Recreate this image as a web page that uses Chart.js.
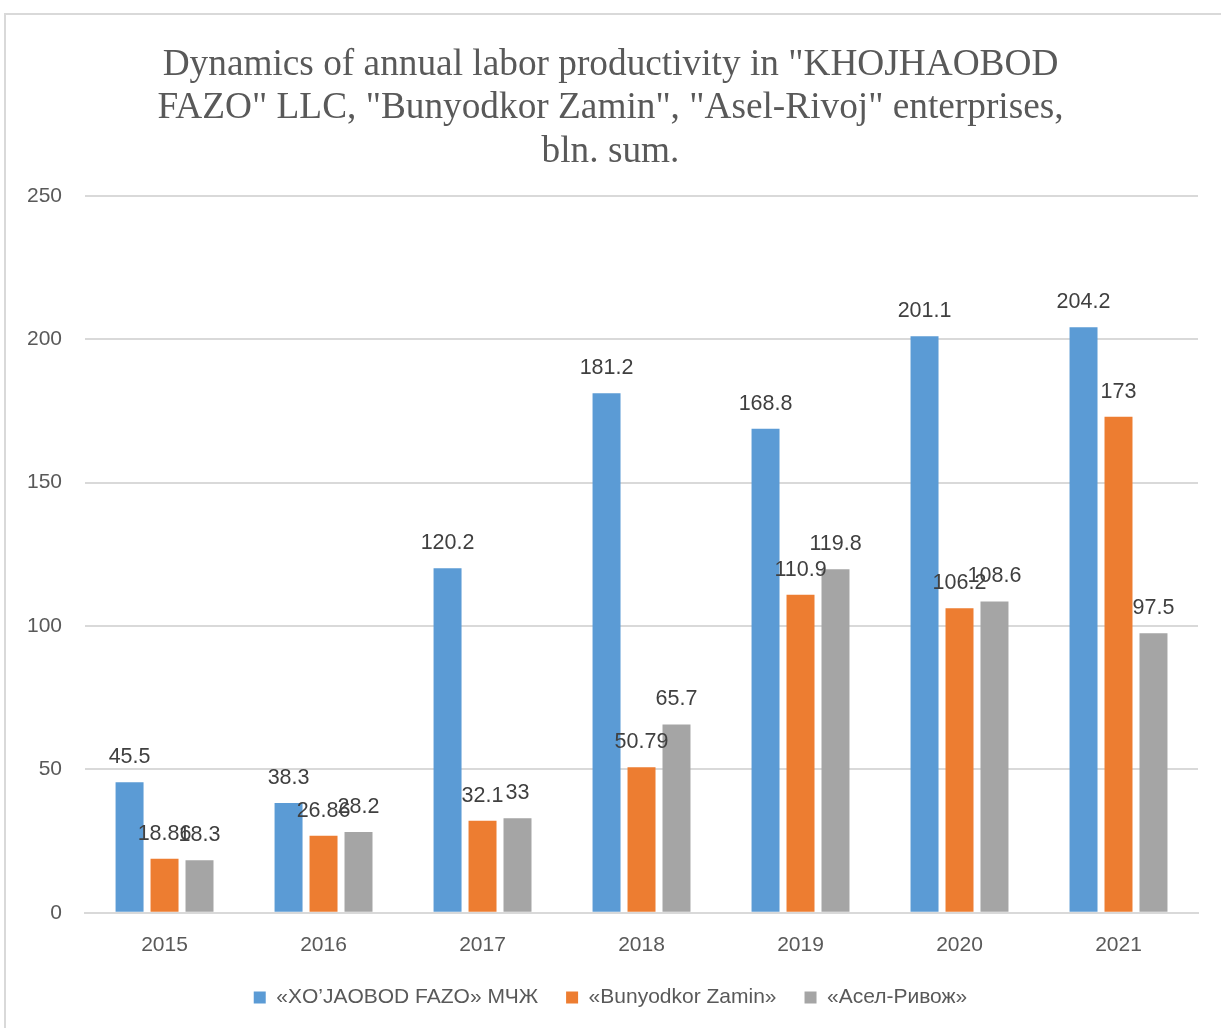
<!DOCTYPE html>
<html>
<head>
<meta charset="utf-8">
<script src="https://cdn.jsdelivr.net/npm/chart.js@4"></script>
<style>
    body { margin: 0; background: #fff; overflow: hidden; }
    .frame {
        position: absolute; left: 4px; top: 13px;
        width: 1300px; height: 1100px;
        border: 2px solid #d9d9d9;
    }
    .wrap { position: absolute; left: 0; top: 0; width: 1221px; height: 1028px; }
</style>
</head>
<body>
<div class="frame"></div>
<div class="wrap"><canvas id="prodChart"></canvas></div>
<script>
// Chart data
const years = ['2015', '2016', '2017', '2018', '2019', '2020', '2021'];
const khojhaobod = [45.5, 38.3, 120.2, 181.2, 168.8, 201.1, 204.2];
const bunyodkor = [18.86, 26.86, 32.1, 50.79, 110.9, 106.2, 173];
const aselRivoj = [18.3, 28.2, 33, 65.7, 119.8, 108.6, 97.5];
const seriesNames = ['«XO\u2019JAOBOD FAZO» МЧЖ', '«Bunyodkor Zamin»', '«Асел-Ривож»'];
const titleLines = [
    'Dynamics of annual labor productivity in "KHOJHAOBOD',
    'FAZO" LLC, "Bunyodkor Zamin", "Asel-Rivoj" enterprises,',
    'bln. sum.'
];

const sansFont = "'Liberation Sans', sans-serif";
const textColor = '#595959';

// Draws the value above each bar, Excel style
const valueLabels = {
    id: 'valueLabels',
    afterDatasetsDraw(chart) {
        const ctx = chart.ctx;
        ctx.save();
        ctx.font = '21.5px ' + sansFont;
        ctx.fillStyle = '#404040';
        ctx.textAlign = 'center';
        ctx.textBaseline = 'alphabetic';
        chart.data.datasets.forEach((ds, i) => {
            const meta = chart.getDatasetMeta(i);
            meta.data.forEach((bar, j) => {
                ctx.fillText(String(ds.data[j]), bar.x, bar.y - 19);
            });
        });
        ctx.restore();
    }
};

const ctx = document.getElementById('prodChart').getContext('2d');
new Chart(ctx, {
    type: 'bar',
    data: {
        labels: years,
        datasets: [
            { label: seriesNames[0], data: khojhaobod, backgroundColor: '#5B9BD5' },
            { label: seriesNames[1], data: bunyodkor, backgroundColor: '#ED7D31' },
            { label: seriesNames[2], data: aselRivoj, backgroundColor: '#A5A5A5' }
        ]
    },
    options: {
        responsive: true,
        maintainAspectRatio: false,
        animation: false,
        categoryPercentage: 0.66,
        barPercentage: 0.8,
        layout: {
            padding: { top: 22, left: 23, right: 23, bottom: 10 }
        },
        scales: {
            x: {
                grid: { display: false, drawTicks: false },
                border: { color: '#d9d9d9', width: 2 },
                ticks: {
                    color: textColor,
                    font: { family: sansFont, size: 21 },
                    padding: 20
                },
                // keep the legend close to the year labels
                afterFit(scale) {
                    scale.height -= 19;
                }
            },
            y: {
                min: 0,
                max: 250,
                grid: { color: '#d9d9d9', lineWidth: 2, drawTicks: false },
                border: { display: false },
                ticks: {
                    stepSize: 50,
                    color: textColor,
                    font: { family: sansFont, size: 21 },
                    padding: 23
                },
                afterFit(scale) {
                    scale.width -= 19;
                }
            }
        },
        plugins: {
            title: {
                display: true,
                text: titleLines,
                color: textColor,
                font: { family: "'Liberation Serif', serif", size: 37.3, weight: 'normal', lineHeight: 1.17 },
                padding: { top: 21, bottom: 22 }
            },
            legend: {
                position: 'bottom',
                labels: {
                    color: textColor,
                    font: { family: sansFont, size: 21 },
                    boxWidth: 12,
                    boxHeight: 12,
                    padding: 28
                }
            },
            tooltip: { enabled: false }
        }
    },
    plugins: [valueLabels]
});
</script>
</body>
</html>
